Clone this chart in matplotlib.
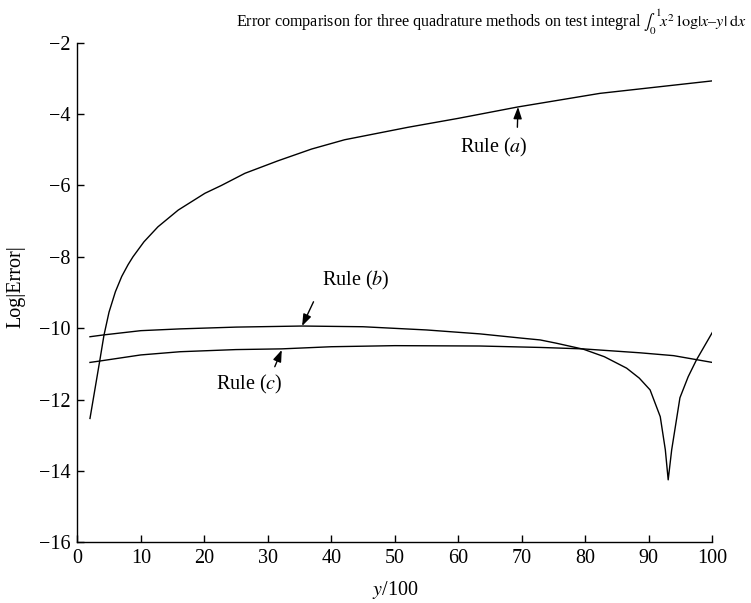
import matplotlib
matplotlib.use("Agg")
import matplotlib.pyplot as plt

plt.rcParams['font.family'] = ['Liberation Serif', 'DejaVu Serif']
plt.rcParams['mathtext.fontset'] = 'stix'

# ---- data ----
x_a = [2, 3.0, 3.57, 4.2, 5.0, 6.0, 7.0, 8.0, 8.77, 10.5, 12.7, 15.9, 20.1, 22.7,
       26.4, 31.6, 36.9, 42.1, 52.1, 60.0, 69.4, 82.3, 100]
y_a = [-12.53, -11.48, -10.88, -10.20, -9.55, -8.98, -8.55, -8.22, -8.00, -7.58,
       -7.16, -6.69, -6.22, -6.00, -5.66, -5.31, -4.98, -4.72, -4.37, -4.12,
       -3.80, -3.42, -3.07]

x_b = [2, 4.1, 10, 16.2, 25, 35.4, 45, 55, 63.4, 70, 72.9, 75.4, 79.7, 83, 86.5,
       88.5, 90.2, 91.8, 92.6, 93.05, 93.6, 94.9, 96.2, 97.5, 100]
y_b = [-10.24, -10.19, -10.07, -10.02, -9.97, -9.94, -9.96, -10.05, -10.16, -10.28,
       -10.33, -10.42, -10.59, -10.80, -11.12, -11.40, -11.73, -12.48, -13.41,
       -14.25, -13.41, -11.95, -11.36, -10.89, -10.12]

x_c = [2, 3.57, 10, 16.2, 25, 32.2, 40, 50, 63.4, 72.9, 79.6, 88.6, 93.9, 100]
y_c = [-10.96, -10.92, -10.75, -10.66, -10.60, -10.58, -10.52, -10.49, -10.50,
       -10.54, -10.58, -10.69, -10.77, -10.96]

x_ticks = [0, 10, 20, 30, 40, 50, 60, 70, 80, 90, 100]
y_ticks = [-16, -14, -12, -10, -8, -6, -4, -2]

title = (r"Error comparison for three quadrature methods on test integral "
         r"$\int_0^1\! x^2\;\mathrm{log}|x\text{–}y|\;\mathrm{d}x$")

fig = plt.figure(figsize=(7.51, 6.03), dpi=100)
ax = fig.add_axes([0.1029, 0.1007, 0.8456, 0.8285])

lw = 1.0
ax.plot(x_a, y_a, color='black', lw=lw)
ax.plot(x_b, y_b, color='black', lw=lw)
ax.plot(x_c, y_c, color='black', lw=lw)

ax.set_xlim(0, 100)
ax.set_ylim(-16, -2)
ax.set_xticks(x_ticks)
ax.set_yticks(y_ticks)
ax.set_yticklabels([f"\u2212{abs(v)}" for v in y_ticks])
ax.spines['top'].set_visible(False)
ax.spines['right'].set_visible(False)
for s in ('left', 'bottom'):
    ax.spines[s].set_linewidth(1.0)
ax.tick_params(direction='in', length=5, width=1.0, labelsize=14.5, pad=5)

arrow = dict(arrowstyle='-|>,head_length=0.5,head_width=0.18', color='black',
             lw=1.0, shrinkA=0, shrinkB=0, mutation_scale=14)
fs = 14.5
ax.annotate("", xy=(69.4, -3.80), xytext=(69.3, -4.37), arrowprops=arrow)
ax.text(65.6, -4.95, r"Rule ($\mathit{a}$)", fontsize=fs, ha='center', va='center')
ax.annotate("", xy=(35.4, -9.94), xytext=(37.2, -9.26), arrowprops=arrow)
ax.text(43.8, -8.65, r"Rule ($\mathit{b}$)", fontsize=fs, ha='center', va='center')
ax.annotate("", xy=(32.2, -10.61), xytext=(31.1, -11.08), arrowprops=arrow)
ax.text(27.0, -11.59, r"Rule ($\mathit{c}$)", fontsize=fs, ha='center', va='center')

fig.text(0.0213, 0.524, "Log|Error|", rotation=90, fontsize=fs, ha='center', va='center')
fig.text(395 / 751, 1 - 590 / 603, r"$\mathit{y}$/100", fontsize=fs, ha='center', va='center')
fig.text(236 / 751, 1 - 22 / 603, title, fontsize=11.6, ha='left', va='center')

fig.savefig("out.png", dpi=100)
